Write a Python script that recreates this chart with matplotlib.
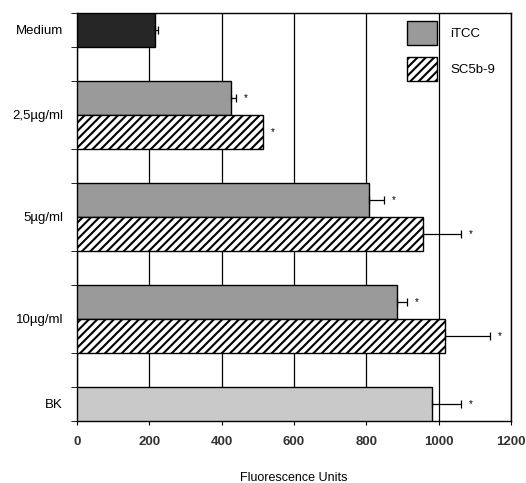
import numpy as np
import matplotlib.pyplot as plt
from matplotlib.patches import Patch

plt.rcParams['font.family'] = ['Liberation Sans', 'DejaVu Sans']
plt.rcParams['hatch.linewidth'] = 1.5

# groups, top to bottom
group_labels = ['Medium', '2,5µg/ml', '5µg/ml', '10µg/ml', 'BK']

# single-bar controls
medium_val, medium_err = 215, 8
bk_val, bk_err = 982, 80

# iTCC / SC5b-9 per concentration (2,5 / 5 / 10 µg/ml)
itcc_vals = [426, 807, 885]
itcc_errs = [14, 42, 27]
sc5b9_vals = [514, 957, 1017]
sc5b9_errs = [0, 105, 125]

fig = plt.figure(figsize=(5.26, 4.83), dpi=100)
ax = fig.add_axes([0.1464, 0.1284, 0.825, 0.8447])

bar_kw = dict(height=1.0, edgecolor='black', linewidth=1.0, zorder=3)
err_kw = dict(fmt='none', ecolor='black', elinewidth=0.9, capsize=3, capthick=0.9, zorder=4)
star_kw = dict(ha='left', va='center', fontsize=7, zorder=5)


def bar_with_err(y, val, err, color, hatch=None, star=True):
    ax.barh(y, val, color=color, hatch=hatch, **bar_kw)
    if err > 0:
        ax.errorbar(val, y, xerr=[[0], [err]], **err_kw)
    if star:
        ax.text(val + err + 22, y, '*', **star_kw)


bar_with_err(0.5, medium_val, medium_err, '#262626', star=False)

for i, (iv, ie, sv, se) in enumerate(zip(itcc_vals, itcc_errs, sc5b9_vals, sc5b9_errs)):
    base = 2 + 3 * i
    bar_with_err(base + 0.5, iv, ie, '#9a9a9a')
    bar_with_err(base + 1.5, sv, se, 'white', hatch='////')

bar_with_err(11.5, bk_val, bk_err, '#c9c9c9')

ax.set_xlim(0, 1200)
ax.set_ylim(12, 0)
ax.set_xticks(np.arange(0, 1201, 200))
ax.xaxis.grid(True, color='black', linewidth=0.9)
ax.set_axisbelow(True)
ax.tick_params(axis='x', labelsize=9.5, length=3, pad=8)
for t in ax.get_xticklabels():
    t.set_fontweight('bold')
    t.set_color('#333333')

ax.set_yticks(np.arange(0, 13, 1), minor=True)
ax.set_yticks([0.5, 3, 6, 9, 11.5])
ax.set_yticklabels(group_labels)
ax.tick_params(axis='y', which='major', length=0, pad=10, labelsize=9.5)
ax.tick_params(axis='y', which='minor', length=4)

for s in ax.spines.values():
    s.set_linewidth(1.0)

ax.set_xlabel('Fluorescence Units', fontsize=9, labelpad=17)

handles = [Patch(facecolor='#9a9a9a', edgecolor='black', label='iTCC'),
           Patch(facecolor='white', edgecolor='black', hatch='////', label='SC5b-9')]
ax.legend(handles=handles, loc='upper left', bbox_to_anchor=(0.76, 0.98),
          frameon=False, fontsize=9.5, handlelength=2.27, handleheight=2.4,
          labelspacing=0.9, handletextpad=1.0, borderpad=0, borderaxespad=0)

fig.savefig('out.png', dpi=100)
